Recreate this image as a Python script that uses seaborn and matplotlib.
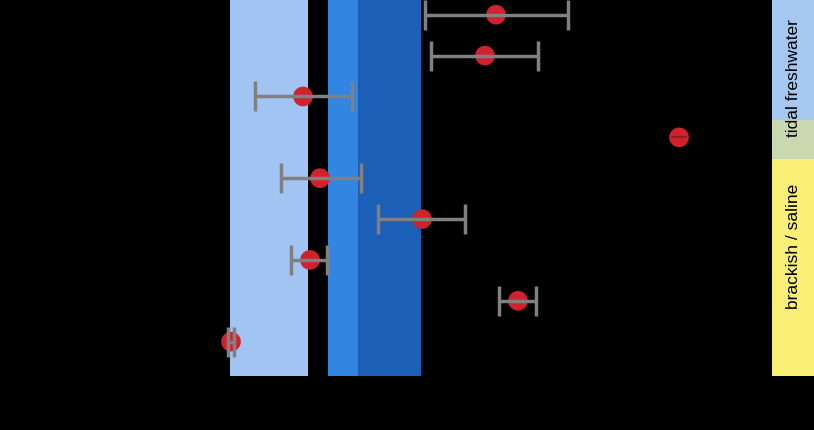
import numpy as np
import pandas as pd
import matplotlib
matplotlib.use("Agg")
import matplotlib.pyplot as plt
import seaborn as sns

# ---- data ----
rows = [0, 1, 2, 3, 4, 5, 6, 7, 8]
values = [36.6, 35.5, 17.3, 54.9, 19.0, 29.2, 18.0, 38.8, 10.1]
err_low = [29.5, 30.1, 12.5, 54.9, 15.1, 24.8, 16.1, 36.9, 9.8]
err_high = [43.8, 40.8, 22.2, 54.9, 23.1, 33.5, 19.7, 40.6, 10.4]
small_err_rows = [3]
small_err = [0.8]

band_starts = [10.0, 19.8, 22.8]
band_ends = [17.8, 22.8, 29.1]
band_colors = ["#A1C4F2", "#3385E2", "#1B5FB6"]

zone_labels = ["tidal freshwater", "brackish / saline"]
zone_bounds = [(-0.36, 2.58), (2.58, 3.52), (3.52, 8.84)]
zone_colors = ["#A5C8F1", "#C9D8AE", "#F9EF75"]
zone_text_y = [1.56, 5.68]

sns.set_theme(style="white")
plt.rcParams["font.family"] = ["Liberation Sans", "DejaVu Sans"]

df = pd.DataFrame({"row": rows, "value": values, "lo": err_low, "hi": err_high})

fig = plt.figure(figsize=(8.14, 4.30), dpi=100)
fig.patch.set_facecolor("black")
ax = fig.add_axes([130 / 814, 1 - 376 / 430, 630 / 814, 376 / 430])
ax.set_facecolor("black")

for s, e, c in zip(band_starts, band_ends, band_colors):
    ax.axvspan(s, e, color=c, lw=0, zorder=0)

sns.scatterplot(data=df, x="value", y="row", ax=ax, color="#D0222D", s=200,
                edgecolor="none", zorder=3, legend=False)

mask = ~df["row"].isin(small_err_rows)
d = df[mask]
ax.errorbar(d["value"], d["row"],
            xerr=[d["value"] - d["lo"], d["hi"] - d["value"]],
            fmt="none", ecolor="#808080", elinewidth=2.5, capsize=10.5,
            capthick=2.5, zorder=4)
d2 = df[~mask]
ax.errorbar(d2["value"], d2["row"], xerr=small_err, fmt="none",
            ecolor="#9A1A22", elinewidth=1.5, capsize=0, zorder=4)

ax.set_xlim(0, 63)
ax.set_ylim(8.84, -0.36)
ax.set_xticks([])
ax.set_yticks([])
ax.set_xlabel("")
ax.set_ylabel("")
for sp in ax.spines.values():
    sp.set_visible(False)

# side strip
ax2 = fig.add_axes([772 / 814, 1 - 376 / 430, 42 / 814, 376 / 430], sharey=ax)
ax2.set_facecolor("black")
for (a, b), c in zip(zone_bounds, zone_colors):
    ax2.axhspan(a, b, color=c, lw=0)
ax2.set_xlim(0, 1)
for lab, yy in zip(zone_labels, zone_text_y):
    ax2.text(0.5, yy, lab, rotation=90, ha="center", va="center",
             fontsize=12.5, color="black")
ax2.set_xticks([])
ax2.tick_params(left=False, labelleft=False)
for sp in ax2.spines.values():
    sp.set_visible(False)

fig.savefig("out.png", dpi=100, facecolor="black")
